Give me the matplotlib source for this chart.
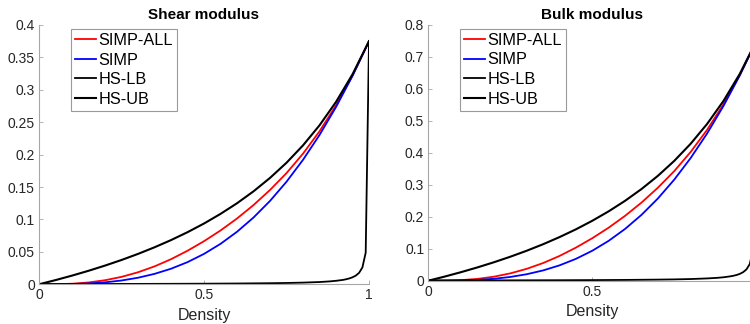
import matplotlib
matplotlib.use('Agg')
import matplotlib.pyplot as plt

plt.rcParams['font.family'] = ['Liberation Sans', 'DejaVu Sans']

# density grid for the SIMP curves and the upper bounds
density = [0, 0.05, 0.1, 0.15, 0.2, 0.25, 0.3, 0.35, 0.4, 0.45, 0.5,
           0.55, 0.6, 0.65, 0.7, 0.75, 0.8, 0.85, 0.9, 0.95, 1.0]
# lower bound needs more points near 1
density_lb = [0, 0.1, 0.2, 0.3, 0.4, 0.5, 0.6, 0.7, 0.75, 0.8, 0.85, 0.88,
              0.9, 0.92, 0.93, 0.94, 0.95, 0.96, 0.97, 0.98, 0.99, 1.0]

# shear modulus
shear_simp_all = [0, 0.00012, 0.00089, 0.00282, 0.00626, 0.01146, 0.01856, 0.02762,
                  0.0387, 0.05175, 0.0665, 0.083, 0.1015, 0.1222, 0.1455, 0.1715,
                  0.2015, 0.236, 0.276, 0.3218, 0.375]
shear_simp = [0, 0.00005, 0.00038, 0.00127, 0.003, 0.00586, 0.01013, 0.01608,
              0.024, 0.03417, 0.04688, 0.06239, 0.081, 0.103, 0.1286, 0.1582,
              0.192, 0.2303, 0.2734, 0.3215, 0.375]
shear_ub = [0, 0.00647, 0.01339, 0.02083, 0.02885, 0.0375, 0.04688, 0.05707,
            0.06818, 0.08036, 0.09375, 0.1086, 0.125, 0.1434, 0.1641, 0.1875,
            0.2143, 0.2452, 0.2813, 0.3239, 0.375]
shear_lb = [0.00038, 0.00044, 0.00051, 0.00062, 0.00075, 0.00094, 0.00122, 0.0017,
            0.00205, 0.0026, 0.0035, 0.00445, 0.0054, 0.0067, 0.0077, 0.009,
            0.0108, 0.0134, 0.0177, 0.026, 0.0488, 0.375]

# bulk modulus
bulk_simp_all = [0, 0.00024, 0.00178, 0.00564, 0.01253, 0.02292, 0.03712, 0.05525,
                 0.0774, 0.1035, 0.133, 0.166, 0.203, 0.2444, 0.291, 0.343,
                 0.403, 0.472, 0.552, 0.6436, 0.75]
bulk_simp = [0, 0.00009, 0.00075, 0.00253, 0.006, 0.01172, 0.02025, 0.03216,
             0.048, 0.06834, 0.09375, 0.1248, 0.162, 0.206, 0.2573, 0.3164,
             0.384, 0.4606, 0.5468, 0.6431, 0.75]
bulk_ub = [0, 0.01293, 0.02679, 0.04167, 0.05769, 0.075, 0.09375, 0.1141,
           0.1364, 0.1607, 0.1875, 0.2171, 0.25, 0.2868, 0.3281, 0.375,
           0.4286, 0.4904, 0.5625, 0.6477, 0.75]
bulk_lb = [0.00075, 0.00088, 0.00103, 0.00123, 0.0015, 0.0019, 0.00243, 0.0034,
           0.0041, 0.0052, 0.0071, 0.0089, 0.0107, 0.0135, 0.0154, 0.0179,
           0.0215, 0.0268, 0.0354, 0.052, 0.0976, 0.75]

shear_yticks = [0, 0.05, 0.1, 0.15, 0.2, 0.25, 0.3, 0.35, 0.4]
bulk_yticks = [0, 0.1, 0.2, 0.3, 0.4, 0.5, 0.6, 0.7, 0.8]
xticks = [0, 0.5, 1]

fig = plt.figure(figsize=(7.5, 3.24), dpi=100)
ax1 = fig.add_axes([39/750, 39.7/324, 330/750, 259.3/324])
ax2 = fig.add_axes([428.3/750, 43.3/324, 328/750, 255.7/324])

panels = [
    (ax1, 'Shear modulus', shear_simp_all, shear_simp, shear_lb, shear_ub, shear_yticks),
    (ax2, 'Bulk modulus', bulk_simp_all, bulk_simp, bulk_lb, bulk_ub, bulk_yticks),
]

for ax, title, s_all, s, lb, ub, yt in panels:
    ax.plot(density, s_all, color='#ff0000', lw=1.3, label='SIMP-ALL')
    ax.plot(density, s, color='#0000ff', lw=1.3, label='SIMP')
    ax.plot(density_lb, lb, color='black', lw=1.3, label='HS-LB')
    ax.plot(density, ub, color='black', lw=1.5, label='HS-UB')
    ax.set_xlim(0, 1)
    ax.set_ylim(yt[0], yt[-1])
    ax.set_xticks(xticks)
    ax.set_xticklabels(['%g' % v for v in xticks])
    ax.set_yticks(yt)
    ax.set_yticklabels(['%g' % v for v in yt])
    ax.spines['top'].set_visible(False)
    ax.spines['right'].set_visible(False)
    for sp in ['left', 'bottom']:
        ax.spines[sp].set_color('#a6a6a6')
        ax.spines[sp].set_linewidth(0.8)
    ax.tick_params(direction='in', length=3, width=0.6, color='#a6a6a6',
                   labelsize=10, labelcolor='#262626', pad=3)
    ax.set_title(title, fontsize=11, fontweight='bold', pad=4)
    ax.set_xlabel('Density', fontsize=11.5, color='#262626', labelpad=4)
    leg = ax.legend(loc='upper left', bbox_to_anchor=(0.097, 0.985), borderaxespad=0,
                    fontsize=11.7, handlelength=1.3, handletextpad=0.12,
                    labelspacing=0.28, borderpad=0.25, fancybox=False,
                    framealpha=1, edgecolor='#9a9a9a')
    leg.get_frame().set_linewidth(0.8)

# the "1" of the bulk panel falls outside the picture
ax2.set_xticklabels(['0', '0.5', ''])

fig.savefig('out.png', dpi=100)
